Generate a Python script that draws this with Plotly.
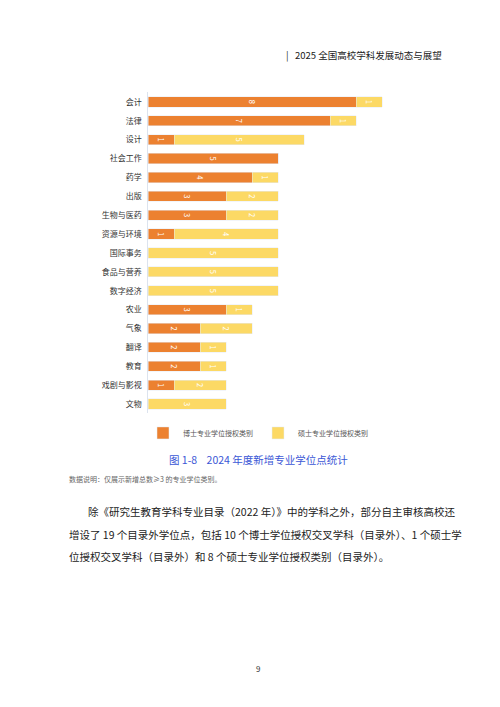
import plotly.graph_objects as go

categories = ["会计", "法律", "设计", "社会工作", "药学", "出版", "生物与医药", "资源与环境",
              "国际事务", "食品与营养", "数字经济", "农业", "气象", "翻译", "教育", "戏剧与影视", "文物"]
doctor = [8, 7, 1, 5, 4, 3, 3, 1, 0, 0, 0, 3, 2, 2, 2, 1, 0]
master = [1, 1, 5, 0, 1, 2, 2, 4, 5, 5, 5, 1, 2, 1, 1, 2, 3]

FONT = "Noto Sans CJK SC"
ORANGE = "#EC8130"
YELLOW = "#FCD965"


def labels(vals):
    return [str(v) if v else "" for v in vals]


fig = go.Figure()
fig.add_trace(go.Bar(y=categories, x=doctor, orientation="h", name="博士专业学位授权类别",
                     marker_color=ORANGE, width=0.54, text=labels(doctor),
                     textposition="inside", insidetextanchor="middle",
                     textfont=dict(color="white", size=9, family=FONT)))
fig.add_trace(go.Bar(y=categories, x=master, orientation="h", name="硕士专业学位授权类别",
                     marker_color=YELLOW, width=0.54, text=labels(master),
                     textposition="inside", insidetextanchor="middle",
                     textfont=dict(color="white", size=9, family=FONT)))

fig.update_layout(
    barmode="stack", width=500, height=707, margin=dict(l=0, r=0, t=0, b=0),
    plot_bgcolor="white", paper_bgcolor="white",
    font=dict(family=FONT, color="#333333", size=8),
    uniformtext=dict(minsize=6, mode="show"),
    xaxis=dict(domain=[0.28, 0.904], range=[0, 12], showgrid=False, zeroline=False,
               showticklabels=False, showline=False),
    yaxis=dict(domain=[0.4265, 0.8805], autorange="reversed", showgrid=False,
               showline=True, linecolor="#DCE3EE", linewidth=1, ticks="",
               ticksuffix="  ", tickfont=dict(size=8, color="#333333")),
    legend=dict(orientation="h", x=0.5, xanchor="center", y=0.399, yanchor="middle",
                font=dict(size=7, color="#555555"), itemwidth=30, traceorder="normal"),
    showlegend=True,
)

texts = [
    (0.872, 47, "|   2025 全国高校学科发展动态与展望", 9.5, "#222222", "right"),
    (0.5, 451, "图 1-8    2024 年度新增专业学位点统计", 10.5, "#3B57D6", "center"),
    (0.118, 471, "数据说明：仅展示新增总数≥3 的专业学位类别。", 7, "#666666", "left"),
    (0.155, 503, "除《研究生教育学科专业目录（2022 年）》中的学科之外，部分自主审核高校还", 10.5, "#222222", "left"),
    (0.118, 526, "增设了 19 个目录外学位点，包括 10 个博士学位授权交叉学科（目录外）、1 个硕士学", 10.5, "#222222", "left"),
    (0.118, 548, "位授权交叉学科（目录外）和 8 个硕士专业学位授权类别（目录外）。", 10.5, "#222222", "left"),
    (0.5, 660, "9", 8, "#333333", "center"),
]
for x, ypx, t, size, color, anchor in texts:
    fig.add_annotation(x=x, y=1 - ypx / 707, xref="paper", yref="paper", text=t,
                       showarrow=False, xanchor=anchor, yanchor="middle",
                       font=dict(size=size, color=color, family=FONT))

fig.write_html("out.html")
